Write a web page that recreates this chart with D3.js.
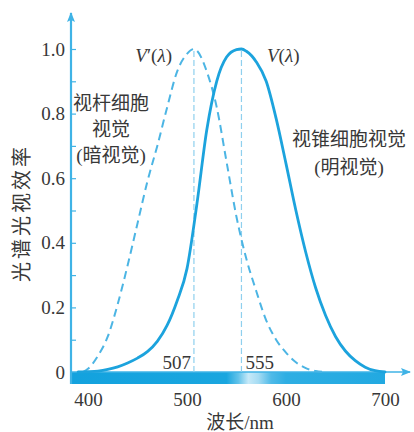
<!DOCTYPE html>
<html>
<head>
<meta charset="utf-8">
<script src="https://cdn.jsdelivr.net/npm/d3@7"></script>
<style>
  html, body { margin: 0; padding: 0; background: #fff; }
  svg { display: block; }
  text { fill: #383838; }
</style>
</head>
<body>
<script>
// Photopic luminous efficiency V(λ) — cone vision
const photopicWavelengths = [390, 400, 410, 420, 430, 440, 450, 460, 470, 480, 490, 500, 510, 520, 530, 540, 550, 555, 560, 570, 580, 590, 600, 610, 620, 630, 640, 650, 660, 670, 680, 690, 700];
const photopicValues      = [0, 0.001, 0.003, 0.008, 0.016, 0.028, 0.043, 0.063, 0.095, 0.145, 0.22, 0.32, 0.52, 0.75, 0.9, 0.975, 0.998, 1.0, 0.993, 0.96, 0.9, 0.785, 0.645, 0.5, 0.37, 0.26, 0.175, 0.11, 0.065, 0.035, 0.015, 0.004, 0];

// Scotopic luminous efficiency V'(λ) — rod vision
const scotopicWavelengths = [395, 400, 410, 420, 430, 440, 450, 460, 470, 480, 490, 500, 507, 510, 520, 530, 540, 550, 560, 570, 580, 590, 600, 610, 620, 630, 640];
const scotopicValues      = [0, 0.01, 0.05, 0.11, 0.21, 0.33, 0.46, 0.59, 0.7, 0.82, 0.93, 0.985, 1.0, 0.995, 0.93, 0.82, 0.65, 0.48, 0.35, 0.25, 0.16, 0.1, 0.06, 0.03, 0.012, 0.003, 0];

// Peak wavelengths
const peakWavelengths = [507, 555];

// Tick labels
const xTickValues = [400, 500, 600, 700];
const yTickValues = [0, 0.2, 0.4, 0.6, 0.8, 1.0];
const yMinorTicks = [0.1, 0.2, 0.3, 0.4, 0.5, 0.6, 0.7, 0.8, 0.9, 1.0];

const W = 414, H = 432;
const BLUE = "#1ca3dd";
const AXIS_BLUE = "#3fb3e6";
const SERIF = "'Liberation Serif', 'DejaVu Serif', 'Noto Sans CJK SC', serif";
const CJK = "'Liberation Serif', 'Noto Sans CJK SC', sans-serif";

const svg = d3.select("body").append("svg").attr("width", W).attr("height", H);

const x = d3.scaleLinear().domain([400, 700]).range([88, 385]);
const y = d3.scaleLinear().domain([0, 1]).range([372, 49]);

const originX = 71;          // vertical axis position
const barHeight = 12;        // spectrum strip below the baseline

// --- spectrum strip ---
const defs = svg.append("defs");
const grad = defs.append("linearGradient")
  .attr("id", "spectrum")
  .attr("gradientUnits", "userSpaceOnUse")
  .attr("x1", originX).attr("x2", x(700)).attr("y1", 0).attr("y2", 0);
[
  [383, "#13a2de"], [540, "#1aa6df"], [552, "#63c3ea"], [562, "#c6e9f8"],
  [572, "#a6dcf3"], [585, "#4fbae8"], [600, "#2eaee3"], [700, "#22a9e1"]
].forEach(([wl, c]) => {
  grad.append("stop")
    .attr("offset", (x(wl) - originX) / (x(700) - originX))
    .attr("stop-color", c);
});
svg.append("rect")
  .attr("x", originX).attr("y", y(0))
  .attr("width", x(700) - originX).attr("height", barHeight)
  .attr("fill", "url(#spectrum)");

// --- axes lines with arrows ---
defs.append("marker")
  .attr("id", "arrow").attr("viewBox", "0 0 10 10")
  .attr("refX", 9).attr("refY", 5)
  .attr("markerWidth", 10).attr("markerHeight", 10)
  .attr("markerUnits", "userSpaceOnUse")
  .attr("orient", "auto")
  .append("path").attr("d", "M0,1 L10,5 L0,9 L2,5 Z").attr("fill", AXIS_BLUE);

svg.append("line")
  .attr("x1", originX).attr("x2", originX)
  .attr("y1", y(0) + barHeight).attr("y2", 13)
  .attr("stroke", AXIS_BLUE).attr("stroke-width", 2.2)
  .attr("marker-end", "url(#arrow)");
svg.append("line")
  .attr("x1", originX).attr("x2", 410)
  .attr("y1", y(0)).attr("y2", y(0))
  .attr("stroke", AXIS_BLUE).attr("stroke-width", 1.6)
  .attr("marker-end", "url(#arrow)");

// --- y axis: minor ticks and labels ---
const yMinor = svg.append("g")
  .attr("transform", `translate(${originX},0)`)
  .call(d3.axisRight(y).tickValues(yMinorTicks).tickSize(5).tickFormat(""));
yMinor.select(".domain").remove();
yMinor.selectAll("line").attr("stroke", AXIS_BLUE).attr("stroke-width", 1.2);

const yAxis = svg.append("g")
  .attr("transform", `translate(${originX},0)`)
  .call(d3.axisLeft(y).tickValues(yTickValues).tickSize(0).tickPadding(6)
    .tickFormat(d => d === 0 ? "0" : d3.format(".1f")(d)));
yAxis.select(".domain").remove();
yAxis.selectAll("text")
  .style("font-family", SERIF).style("font-size", "19px").attr("fill", "#383838");

// --- x axis labels ---
const xAxis = svg.append("g")
  .attr("transform", `translate(0,${y(0) + barHeight})`)
  .call(d3.axisBottom(x).tickValues(xTickValues).tickSize(0).tickPadding(9));
xAxis.select(".domain").remove();
xAxis.selectAll("text")
  .style("font-family", SERIF).style("font-size", "19px").attr("fill", "#383838");

// --- peak guide lines ---
svg.selectAll(".peak")
  .data(peakWavelengths)
  .join("line")
  .attr("class", "peak")
  .attr("x1", d => x(d)).attr("x2", d => x(d))
  .attr("y1", y(0)).attr("y2", y(1))
  .attr("stroke", "#8fd0ee").attr("stroke-width", 1.2)
  .attr("stroke-dasharray", "6,3");

// --- curves ---
const line = d3.line()
  .x(d => x(d[0])).y(d => y(d[1]))
  .curve(d3.curveMonotoneX);

svg.append("path")
  .datum(d3.zip(scotopicWavelengths, scotopicValues))
  .attr("d", line)
  .attr("fill", "none").attr("stroke", "#4cb5e4")
  .attr("stroke-width", 2)
  .attr("stroke-dasharray", "8,5");

svg.append("path")
  .datum(d3.zip(photopicWavelengths, photopicValues))
  .attr("d", line)
  .attr("fill", "none").attr("stroke", BLUE)
  .attr("stroke-width", 2.8)
  .attr("stroke-linecap", "round");

// --- peak value labels ---
svg.append("text")
  .attr("x", x(507) - 3).attr("y", 369)
  .attr("text-anchor", "end")
  .style("font-family", SERIF).style("font-size", "19px")
  .text("507");
svg.append("text")
  .attr("x", x(555) + 4).attr("y", 369)
  .attr("text-anchor", "start")
  .style("font-family", SERIF).style("font-size", "19px")
  .text("555");

// --- curve names ---
function fnLabel(xPos, anchor, prime) {
  const t = svg.append("text")
    .attr("x", xPos).attr("y", 62)
    .attr("text-anchor", anchor)
    .style("font-family", SERIF).style("font-size", "19px");
  t.append("tspan").style("font-style", "italic").text("V");
  if (prime) t.append("tspan").text("′");
  t.append("tspan").text("(");
  t.append("tspan").style("font-style", "italic").text("λ");
  t.append("tspan").text(")");
}
fnLabel(172, "end", true);
fnLabel(267, "start", false);

// --- region annotations ---
function block(lines, cx, ys) {
  lines.forEach((s, i) => {
    svg.append("text")
      .attr("x", cx).attr("y", ys[i])
      .attr("text-anchor", "middle")
      .style("font-family", CJK).style("font-size", "19px")
      .text(s);
  });
}
block(["视杆细胞", "视觉", "(暗视觉)"], 111, [110, 136, 162]);
block(["视锥细胞视觉", "(明视觉)"], 349, [146, 174]);

// --- axis titles ---
svg.append("text")
  .attr("x", 240).attr("y", 429)
  .attr("text-anchor", "middle")
  .style("font-family", CJK).style("font-size", "19px")
  .text("波长/nm");

svg.append("text")
  .attr("transform", "translate(29,213) rotate(-90)")
  .attr("text-anchor", "middle")
  .style("font-family", CJK).style("font-size", "20px")
  .style("letter-spacing", "3px")
  .text("光谱光视效率");
</script>
</body>
</html>
